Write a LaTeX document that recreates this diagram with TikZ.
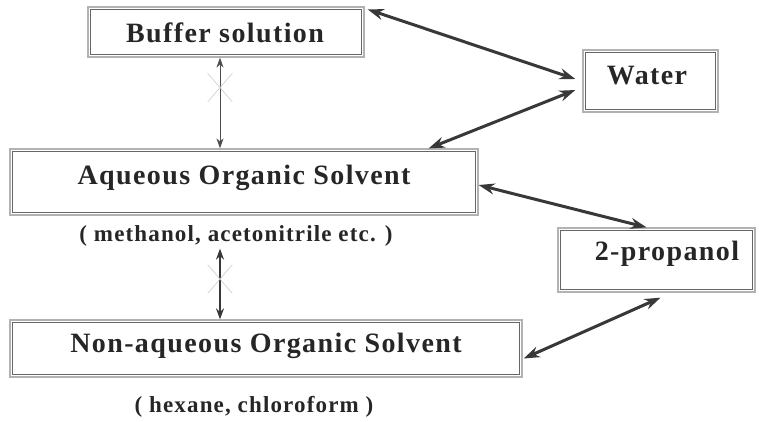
\documentclass[tikz,border=0pt]{standalone}
\usepackage{fontspec}
\setmainfont{Liberation Serif}[LetterSpace=5]
\usetikzlibrary{arrows.meta,shapes.misc}
\begin{document}
\begin{tikzpicture}[x=1bp,y=-1bp,
  box/.style={draw=gray!60, line width=1.3bp, inner sep=0pt,
    append after command={
      \pgfextra{\draw[draw=black!60, line width=1.1bp]
        ([shift={(3bp,-3bp)}]\tikzlastnode.north west) rectangle ([shift={(-3bp,3bp)}]\tikzlastnode.south east);}}},
  lab/.style={font=\bfseries\fontsize{28bp}{30bp}\selectfont, text=black!85},
  sub/.style={inner sep=0pt, font=\bfseries\fontsize{23bp}{25bp}\selectfont, text=black!85},
  bigarr/.style={line width=3bp, draw=black!78, {Stealth[length=16bp,width=11bp]}-{Stealth[length=16bp,width=11bp]}},
  thinarr/.style={line width=1bp, draw=black!70, {Stealth[length=10bp,width=7bp]}-{Stealth[length=10bp,width=7bp]}},
  midarr/.style={line width=2.2bp, draw=black!78, {Stealth[length=11bp,width=8bp]}-{Stealth[length=11bp,width=8bp]}},
  xmark/.style={cross out, draw=gray!40, line width=0.6bp, inner sep=0pt, minimum width=24bp, minimum height=28bp}
]
\useasboundingbox (0,0) rectangle (768,421);
% boxes
\node[box, minimum width=276bp, minimum height=50bp] (buf) at (226,32) {};
\node[lab] (buft) at (225,33) {Buffer solution};
\node[box, minimum width=135bp, minimum height=62bp] (water) at (650.5,81) {};
\node[lab] (watert) at (647,76) {Water};
\node[box, minimum width=468bp, minimum height=66bp] (aq) at (244,182) {};
\node[lab] (aqt) at (244,178) {Aqueous Organic Solvent};
\node[sub] (aqsub) at (236,236) {( methanol, acetonitrile etc. )};
\node[box, minimum width=197bp, minimum height=64bp] (prop) at (656.5,260) {};
\node[lab] (propt) at (667,254) {2-propanol};
\node[box, minimum width=512bp, minimum height=57bp] (non) at (266,348.5) {};
\node[lab] (nont) at (266,346) {Non-aqueous Organic Solvent};
\node[sub] (nonsub) at (254,407) {( hexane, chloroform )};
\coordinate (vx) at (220,0);
% connectors
\draw[bigarr] ([xshift=3bp,yshift=-3bp]buf.north east) -- ([xshift=-7bp,yshift=2bp]water.west);
\draw[bigarr] ([xshift=-7bp,yshift=-9bp]water.west) -- ([xshift=-50bp]aq.north east);
\draw[bigarr] ([yshift=-3bp]aq.east) -- ([xshift=-10bp]prop.north);
\draw[bigarr] ([xshift=4bp,yshift=-5bp]prop.south) -- ([xshift=1bp,yshift=-10bp]non.east);
\draw[thinarr] (buf.south -| vx) -- node[xmark, pos=0.33] (x1) {} (aq.north -| vx);
\draw[midarr] ([yshift=-2bp]aqsub.south -| vx) -- node[xmark, pos=0.43] (x2) {} (non.north -| vx);
\end{tikzpicture}
\end{document}
